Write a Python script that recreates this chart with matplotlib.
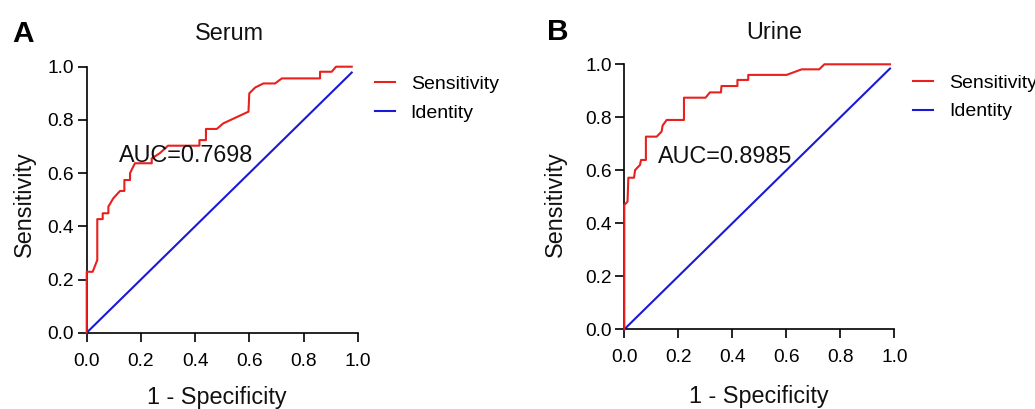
import matplotlib
matplotlib.use("Agg")
import matplotlib.pyplot as plt

plt.rcParams['font.family'] = ['Liberation Sans', 'DejaVu Sans']

# ---- data ----
serum_fpr = [0.0, 0.0, 0.022, 0.039, 0.039, 0.059, 0.059, 0.080, 0.080, 0.098, 0.123,
             0.139, 0.139, 0.160, 0.160, 0.178, 0.240, 0.240, 0.270, 0.300, 0.416,
             0.416, 0.440, 0.440, 0.480, 0.504, 0.597, 0.600, 0.622, 0.652, 0.695,
             0.720, 0.861, 0.861, 0.904, 0.920, 0.978]
serum_tpr = [0.0, 0.229, 0.229, 0.273, 0.427, 0.427, 0.449, 0.449, 0.474, 0.505, 0.533,
             0.533, 0.574, 0.574, 0.600, 0.637, 0.637, 0.655, 0.675, 0.703, 0.703,
             0.724, 0.724, 0.766, 0.766, 0.787, 0.831, 0.900, 0.922, 0.937, 0.937,
             0.956, 0.956, 0.981, 0.981, 1.0, 1.0]
serum_identity = [0.0, 0.978]
serum_auc = "AUC=0.7698"

urine_fpr = [0.0, 0.0, 0.012, 0.015, 0.036, 0.040, 0.058, 0.062, 0.080, 0.080, 0.120,
             0.138, 0.142, 0.157, 0.221, 0.221, 0.301, 0.317, 0.358, 0.360, 0.419,
             0.419, 0.459, 0.459, 0.601, 0.657, 0.722, 0.741, 0.984]
urine_tpr = [0.0, 0.469, 0.482, 0.572, 0.572, 0.601, 0.620, 0.639, 0.639, 0.727, 0.727,
             0.746, 0.769, 0.790, 0.790, 0.874, 0.874, 0.894, 0.894, 0.918, 0.918,
             0.941, 0.941, 0.960, 0.960, 0.981, 0.981, 1.0, 1.0]
urine_identity = [0.0, 0.984]
urine_auc = "AUC=0.8985"

ticks = [0.0, 0.2, 0.4, 0.6, 0.8, 1.0]
tick_labels = ["0.0", "0.2", "0.4", "0.6", "0.8", "1.0"]

RED = '#e8201e'
BLUE = '#1a1ad6'

W, H = 1035, 409
fig = plt.figure(figsize=(W / 100, H / 100), dpi=100)


def make_axes(left, bottom, right, top):
    return fig.add_axes([left / W, 1 - bottom / H, (right - left) / W, (bottom - top) / H])


panels = [
    dict(rect=(86.7, 332.7, 357.7, 66.7), fpr=serum_fpr, tpr=serum_tpr, ident=serum_identity,
         auc=serum_auc, auc_xy=(0.12, 0.643), title="Serum", title_xy=(0.525, 1.100),
         xlab_xy=(0.48, -0.268), ylab_xy=(-0.231, 0.483), leg=(1.064, 0.88),
         letter="A", letter_xy=(12, 41.7)),
    dict(rect=(624.3, 329.3, 894.3, 64.3), fpr=urine_fpr, tpr=urine_tpr, ident=urine_identity,
         auc=urine_auc, auc_xy=(0.124, 0.626), title="Urine", title_xy=(0.555, 1.094),
         xlab_xy=(0.50, -0.28), ylab_xy=(-0.254, 0.473), leg=(1.070, 0.875),
         letter="B", letter_xy=(547, 40)),
]

for p in panels:
    ax = make_axes(*p['rect'])
    ax.plot(p['fpr'], p['tpr'], color=RED, lw=1.5, label="Sensitivity", clip_on=False, zorder=3)
    ax.plot(p['ident'], p['ident'], color=BLUE, lw=1.5, label="Identity", clip_on=False, zorder=2)
    ax.set_xlim(0, 1)
    ax.set_ylim(0, 1)
    ax.set_xticks(ticks)
    ax.set_xticklabels(tick_labels)
    ax.set_yticks(ticks)
    ax.set_yticklabels(tick_labels)
    for s in ['top', 'right']:
        ax.spines[s].set_visible(False)
    for s in ['left', 'bottom']:
        ax.spines[s].set_linewidth(1.2)
    ax.tick_params(axis='both', direction='out', length=6.5, width=1.2, labelsize=13.8,
                   colors='black')
    ax.tick_params(axis='x', pad=8)
    ax.tick_params(axis='y', pad=2.5)
    ax.text(p['auc_xy'][0], p['auc_xy'][1], p['auc'], transform=ax.transAxes,
            fontsize=16.8, ha='left', va='baseline', color='#111111', zorder=4)
    ax.text(p['title_xy'][0], p['title_xy'][1], p['title'], transform=ax.transAxes,
            fontsize=16.8, ha='center', va='baseline', color='#111111')
    ax.text(p['xlab_xy'][0], p['xlab_xy'][1], "1 - Specificity", transform=ax.transAxes,
            fontsize=16.8, ha='center', va='baseline', color='#111111')
    ax.text(p['ylab_xy'][0], p['ylab_xy'][1], "Sensitivity", transform=ax.transAxes,
            fontsize=16.8, ha='center', va='center', rotation=90, color='#111111')
    ax.legend(loc='center left', bbox_to_anchor=p['leg'], frameon=False, fontsize=14,
              handlelength=1.03, handletextpad=0.8, labelspacing=0.55, borderpad=0,
              borderaxespad=0)
    fig.text(p['letter_xy'][0] / W, 1 - p['letter_xy'][1] / H, p['letter'],
             fontsize=21.5, fontweight='bold', ha='left', va='baseline')

fig.savefig("out.png", dpi=100)
